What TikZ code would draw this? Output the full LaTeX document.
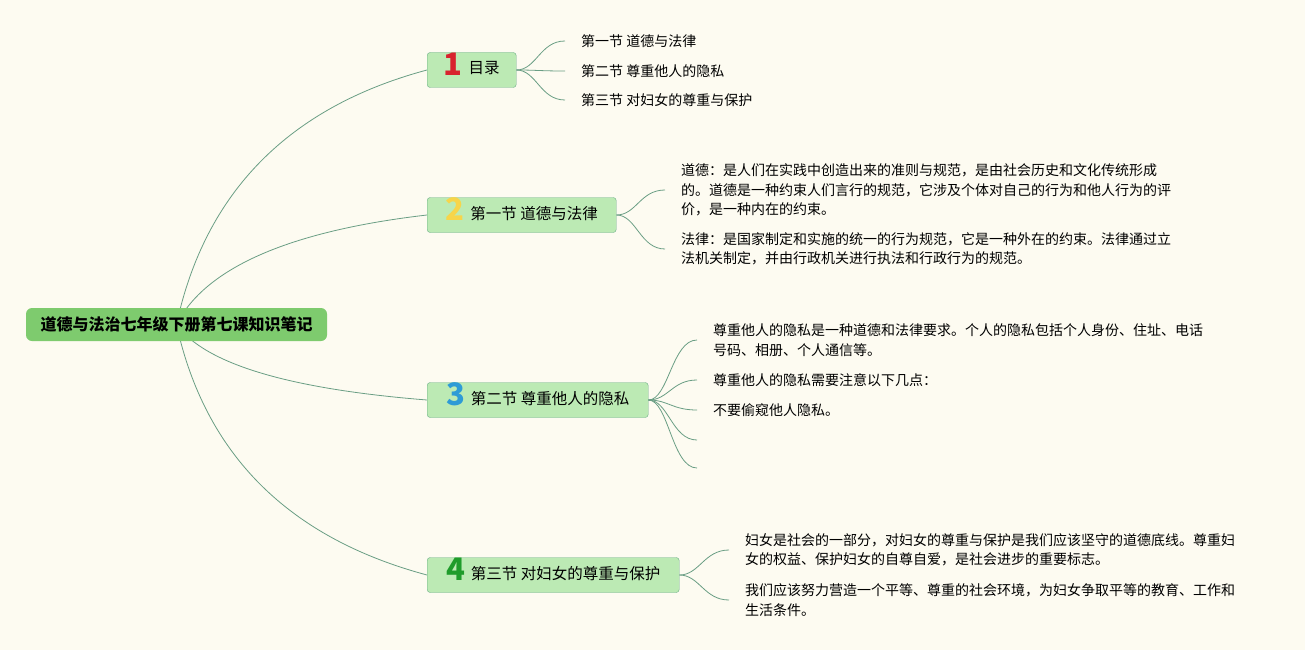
\documentclass[tikz,border=0pt]{standalone}
\usepackage{fontspec}
\setmainfont{Noto Sans CJK SC}
\usepackage{xcolor}
\usepackage{tikz}
\usetikzlibrary{backgrounds}

\definecolor{paper}{HTML}{FDFBF1}
\definecolor{rootGreen}{HTML}{7ECB6E}
\definecolor{topicFill}{HTML}{BCEAB4}
\definecolor{topicLine}{HTML}{6AAD85}
\definecolor{linkLine}{HTML}{6A9E84}
\definecolor{numRed}{HTML}{D8232E}
\definecolor{numYellow}{HTML}{F7D54A}
\definecolor{numBlue}{HTML}{2E9BD6}
\definecolor{numGreen}{HTML}{1F9C2B}

\newcommand{\topicnum}[2]{\raisebox{-1.5pt}{\fontsize{31}{31}\selectfont\bfseries\color{#1}#2}\hspace{6pt}}

\begin{document}
\begin{tikzpicture}[
  x=1pt, y=-1pt,
  rootbox/.style={fill=rootGreen, rounded corners=6pt, minimum width=301pt, minimum height=33pt, inner sep=0pt, font=\fontsize{16}{16}\selectfont\bfseries},
  topic/.style={draw=topicLine, fill=topicFill, rounded corners=3pt, anchor=west, minimum height=35pt, inner ysep=0pt, text height=11pt, text depth=3pt, font=\fontsize{15.5}{15.5}\selectfont},
  leaf/.style={anchor=west, inner xsep=16pt, inner ysep=0pt, align=left, font=\fontsize{14}{19.5}\selectfont},
  link/.style={draw=linkLine, line width=0.8pt}
]
\useasboundingbox (0,0) rectangle (1305,650);
\node (root) [rootbox] at (176.5,324.5) {道德与法治七年级下册第七课知识笔记};
\node (contents) [topic, minimum width=89pt] at (427,70) {\topicnum{numRed}{1}目录};
\node (moralLaw) [topic, minimum width=189pt] at (427,215) {\topicnum{numYellow}{2}第一节 道德与法律};
\node (privacy) [topic, minimum width=221pt] at (427,400) {\topicnum{numBlue}{3}第二节 尊重他人的隐私};
\node (women) [topic, minimum width=252pt] at (427,575) {\topicnum{numGreen}{4}第三节 对妇女的尊重与保护};
\node (tocOne) [leaf] at (565,41) {第一节 道德与法律};
\node (tocTwo) [leaf] at (565,71) {第二节 尊重他人的隐私};
\node (tocThree) [leaf] at (565,100) {第三节 对妇女的尊重与保护};
\node (moral) [leaf] at (665,190) {道德：是人们在实践中创造出来的准则与规范，是由社会历史和文化传统形成\\的。道德是一种约束人们言行的规范，它涉及个体对自己的行为和他人行为的评\\价，是一种内在的约束。};
\node (law) [leaf] at (665,249) {法律：是国家制定和实施的统一的行为规范，它是一种外在的约束。法律通过立\\法机关制定，并由行政机关进行执法和行政行为的规范。};
\node (privacyDef) [leaf] at (697,340) {尊重他人的隐私是一种道德和法律要求。个人的隐私包括个人身份、住址、电话\\号码、相册、个人通信等。};
\node (privacyNote) [leaf] at (697,380) {尊重他人的隐私需要注意以下几点：};
\node (noPeeking) [leaf] at (697,410) {不要偷窥他人隐私。};
\node (blankOne) [leaf] at (697,440) {};
\node (blankTwo) [leaf] at (697,468) {};
\node (womenPart) [leaf] at (729,550) {妇女是社会的一部分，对妇女的尊重与保护是我们应该坚守的道德底线。尊重妇\\女的权益、保护妇女的自尊自爱，是社会进步的重要标志。};
\node (womenEnv) [leaf] at (729,600) {我们应该努力营造一个平等、尊重的社会环境，为妇女争取平等的教育、工作和\\生活条件。};
% links from the central topic
\begin{pgfonlayer}{background}
\fill[paper] (0,0) rectangle (1305,650);
\draw[link] (root.center) .. controls (205,192) and (289,107) .. (contents.west);
\draw[link] (root.center) .. controls (205,268) and (289,231) .. (moralLaw.west);
\draw[link] (root.center) .. controls (205,364) and (289,389) .. (privacy.west);
\draw[link] (root.center) .. controls (205,455) and (289,538) .. (women.west);
\end{pgfonlayer}
% links to the leaves
\draw[link] (contents.east) .. controls +(20,0) and +(-25,0) .. (tocOne.west);
\draw[link] (contents.east) .. controls +(20,0) and +(-25,0) .. (tocTwo.west);
\draw[link] (contents.east) .. controls +(20,0) and +(-25,0) .. (tocThree.west);
\draw[link] (moralLaw.east) .. controls +(20,0) and +(-25,0) .. (moral.west);
\draw[link] (moralLaw.east) .. controls +(20,0) and +(-25,0) .. (law.west);
\draw[link] (privacy.east) .. controls +(20,0) and +(-25,0) .. (privacyDef.west);
\draw[link] (privacy.east) .. controls +(20,0) and +(-25,0) .. (privacyNote.west);
\draw[link] (privacy.east) .. controls +(20,0) and +(-25,0) .. (noPeeking.west);
\draw[link] (privacy.east) .. controls +(20,0) and +(-25,0) .. (blankOne.west);
\draw[link] (privacy.east) .. controls +(20,0) and +(-25,0) .. (blankTwo.west);
\draw[link] (women.east) .. controls +(20,0) and +(-25,0) .. (womenPart.west);
\draw[link] (women.east) .. controls +(20,0) and +(-25,0) .. (womenEnv.west);
\end{tikzpicture}
\end{document}
